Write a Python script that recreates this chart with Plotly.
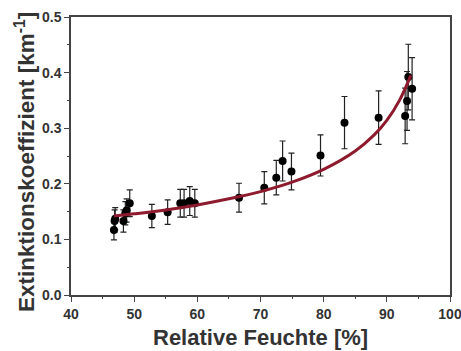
import plotly.graph_objects as go

# measured points: relative humidity [%], extinction [1/km], error
rh = [46.8, 46.9, 47.0, 48.3, 48.6, 48.8, 49.3, 52.8, 55.3, 57.3, 57.9, 58.8, 59.6,
      66.6, 70.6, 72.5, 73.5, 74.9, 79.5, 83.3, 88.7, 92.9, 93.2, 93.4, 94.0]
ext = [0.117, 0.133, 0.137, 0.133, 0.147, 0.152, 0.165, 0.142, 0.149, 0.165, 0.165, 0.169, 0.165,
       0.175, 0.193, 0.211, 0.241, 0.222, 0.251, 0.310, 0.319, 0.322, 0.349, 0.392, 0.371]
err = [0.018, 0.020, 0.020, 0.020, 0.021, 0.021, 0.024, 0.021, 0.022, 0.025, 0.025, 0.026, 0.025,
       0.026, 0.029, 0.031, 0.036, 0.033, 0.037, 0.047, 0.048, 0.050, 0.053, 0.059, 0.056]

# fit curve
fit_x = [46.8, 50, 55, 60, 65, 70, 75, 80, 85, 88, 90, 92, 93.8]
fit_y = [0.142, 0.146, 0.153, 0.162, 0.173, 0.186, 0.203, 0.226, 0.259, 0.288, 0.314, 0.350, 0.395]

x_ticks = [40, 50, 60, 70, 80, 90, 100]
y_ticks = [0.0, 0.1, 0.2, 0.3, 0.4, 0.5]

x_title = "Relative Feuchte [%]"
y_title = "Extinktionskoeffizient [km<sup>-1</sup>]"

fig = go.Figure()
fig.add_trace(go.Scatter(
    x=rh, y=ext, mode="markers",
    marker=dict(color="black", size=8),
    error_y=dict(type="data", array=err, color="#222222", thickness=1.2, width=3),
    showlegend=False))
fig.add_trace(go.Scatter(
    x=fit_x, y=fit_y, mode="lines", line=dict(color="#8e1a2e", width=3, shape="spline"),
    showlegend=False))

font_fam = "Liberation Sans, Arial, sans-serif"
tick_fam = "Liberation Sans Narrow, Arial Narrow, Liberation Sans, sans-serif"
fig.update_layout(
    width=461, height=351,
    margin=dict(l=71, r=11, t=17, b=56, autoexpand=False),
    plot_bgcolor="white", paper_bgcolor="white",
    font=dict(family=font_fam, color="#333333"),
)
fig.update_xaxes(
    range=[40, 100], tickvals=x_ticks, ticktext=["<b>%d</b>" % v for v in x_ticks],
    showgrid=False, zeroline=False, showline=True, linecolor="#444444", linewidth=1.5,
    mirror=True, ticks="outside", ticklen=5, tickwidth=1.2, tickcolor="#444444",
    minor=dict(dtick=5, tick0=40, ticks="outside", ticklen=2, tickwidth=1, tickcolor="#444444"),
    tickfont=dict(size=14, color="#333333", family=tick_fam), ticklabeloverflow="allow",
    automargin=False,
)
fig.update_yaxes(
    range=[0, 0.5], tickvals=y_ticks, ticktext=["<b>%.1f</b>" % v for v in y_ticks],
    showgrid=False, zeroline=False, showline=True, linecolor="#444444", linewidth=1.5,
    mirror=True, ticks="outside", ticklen=5, tickwidth=1.2, tickcolor="#444444",
    minor=dict(dtick=0.05, tick0=0, ticks="outside", ticklen=2, tickwidth=1, tickcolor="#444444"),
    tickfont=dict(size=14, color="#333333", family=tick_fam),
    automargin=False,
)
fig.add_annotation(
    text="<b>%s</b>" % x_title, xref="paper", yref="paper", x=0.5, y=0,
    xanchor="center", yanchor="middle", yshift=-42, showarrow=False,
    font=dict(size=22, color="#333333"))
fig.add_annotation(
    text="<b>%s</b>" % y_title, xref="paper", yref="paper", x=0, y=0.5,
    xanchor="center", yanchor="middle", xshift=-46, yshift=-6, textangle=-90,
    showarrow=False, font=dict(size=22.5, color="#333333"))
fig.write_html("out.html", config={"displayModeBar": False},
               post_script="document.body.style.margin='0px';")
